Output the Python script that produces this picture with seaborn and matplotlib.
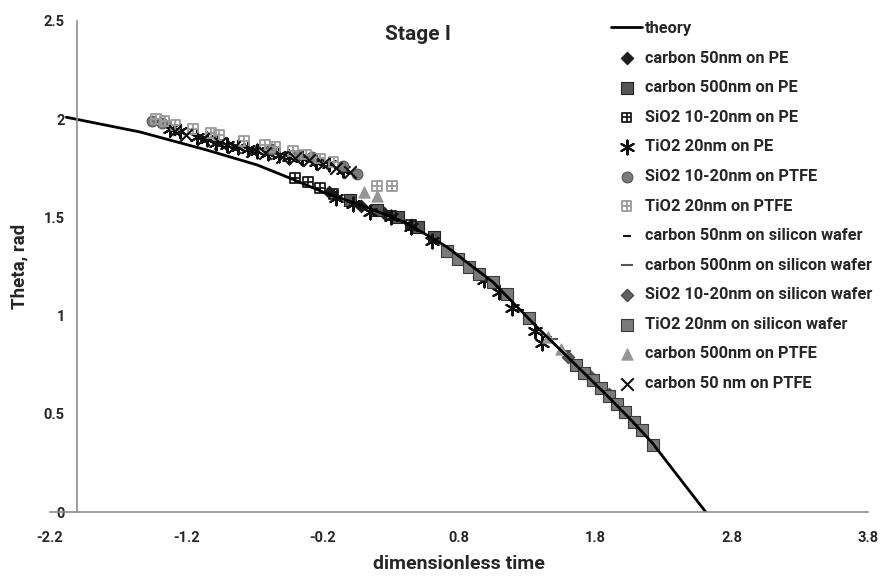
import numpy as np
import pandas as pd
import matplotlib
matplotlib.use("Agg")
import matplotlib.pyplot as plt
from matplotlib.path import Path
import seaborn as sns

# theory curve
theory_x = [-2.08, -1.54, -1.05, -0.68, -0.44, -0.2, 0.13, 0.42, 0.71, 1.05, 1.36, 1.64, 1.89, 2.06, 2.22, 2.42, 2.61]
theory_y = [2.01, 1.935, 1.843, 1.767, 1.70, 1.63, 1.55, 1.47, 1.35, 1.17, 0.95, 0.76, 0.59, 0.47, 0.35, 0.17, 0.0]

c50_pe_x = [-0.15, 0.08, 0.25, 0.45]
c50_pe_y = [1.63, 1.56, 1.52, 1.46]

c500_pe_x = [0.0, 0.2, 0.35, 0.5, 0.62]
c500_pe_y = [1.59, 1.54, 1.50, 1.45, 1.40]

sio2_pe_x = [-0.4, -0.31, -0.22, -0.12, 0.3, 0.45]
sio2_pe_y = [1.70, 1.68, 1.65, 1.62, 1.51, 1.46]

tio2_pe_x = [-1.32, -1.25, -1.12, -1.05, -0.98, -0.9, -0.82, -0.75, -0.68, -0.6, -0.52, -0.45, -0.35, -0.25, -0.15, -0.05,
             -0.1, 0.02, 0.15, 0.3, 0.45, 0.6, 0.98, 1.09, 1.19, 1.36, 1.41]
tio2_pe_y = [1.95, 1.94, 1.91, 1.90, 1.88, 1.87, 1.86, 1.85, 1.84, 1.83, 1.82, 1.81, 1.80, 1.78, 1.77, 1.74,
             1.60, 1.57, 1.53, 1.50, 1.45, 1.38, 1.18, 1.12, 1.04, 0.92, 0.86]

sio2_ptfe_x = [-1.45, -1.38, -0.58, -0.38, -0.28, -0.05, 0.05]
sio2_ptfe_y = [1.99, 1.98, 1.85, 1.82, 1.81, 1.76, 1.72]

tio2_ptfe_x = [-1.42, -1.36, -1.28, -1.15, -1.02, -0.96, -0.78, -0.62, -0.55, -0.42, -0.32, -0.22, -0.12, 0.2, 0.31]
tio2_ptfe_y = [2.00, 1.99, 1.97, 1.95, 1.93, 1.92, 1.89, 1.87, 1.86, 1.84, 1.82, 1.80, 1.78, 1.66, 1.66]

c50_si_x = [1.25, 1.45]
c50_si_y = [1.03, 0.89]

c500_si_x = [1.48, 1.58]
c500_si_y = [0.88, 0.82]

sio2_si_x = [1.6, 1.75, 1.9]
sio2_si_y = [0.79, 0.70, 0.60]

tio2_si_x = [0.71, 0.79, 0.87, 0.95, 1.05, 1.15, 1.31, 1.66, 1.72, 1.78, 1.84, 1.9, 1.96, 2.02, 2.08, 2.14, 2.22]
tio2_si_y = [1.33, 1.29, 1.25, 1.21, 1.17, 1.11, 0.99, 0.75, 0.71, 0.67, 0.63, 0.59, 0.55, 0.51, 0.46, 0.42, 0.34]

c500_ptfe_x = [0.1, 0.2, 1.45, 1.55]
c500_ptfe_y = [1.63, 1.61, 0.89, 0.83]

c50_ptfe_x = [-1.28, -1.2, -1.08, -0.95, -0.85, -0.72, -0.62, -0.5, -0.4, -0.3, -0.2, -0.1, 0.0]
c50_ptfe_y = [1.94, 1.92, 1.90, 1.88, 1.86, 1.84, 1.83, 1.81, 1.80, 1.79, 1.77, 1.75, 1.73]

xticks = [-2.2, -1.2, -0.2, 0.8, 1.8, 2.8, 3.8]
yticks = [0, 0.5, 1, 1.5, 2, 2.5]

# square with a cross inside (Excel style marker)
boxplus = Path(
    [(-1, -1), (1, -1), (1, 1), (-1, 1), (-1, -1), (0, -1), (0, 1), (-1, 0), (1, 0)],
    [Path.MOVETO, Path.LINETO, Path.LINETO, Path.LINETO, Path.CLOSEPOLY,
     Path.MOVETO, Path.LINETO, Path.MOVETO, Path.LINETO],
)

sns.set_theme(style="white")
plt.rcParams["font.family"] = ["Roboto", "DejaVu Sans"]

fig = plt.figure(figsize=(8.82, 5.77), dpi=100)
ax = fig.add_axes([50 / 882, 1 - 512 / 577, 818 / 882, 491 / 577])

sns.lineplot(x=theory_x, y=theory_y, color="black", linewidth=2, ax=ax, label="theory", sort=False)

# label, x, y, marker, face colour, edge colour, size
series = [
    ("carbon 50nm on PE", c50_pe_x, c50_pe_y, "D", "#1e1e1e", "#1e1e1e", 40),
    ("carbon 500nm on PE", c500_pe_x, c500_pe_y, "s", "#555555", "#222222", 75),
    ("SiO2 10-20nm on PE", sio2_pe_x, sio2_pe_y, boxplus, "none", "#1a1a1a", 50),
    ("TiO2 20nm on PE", tio2_pe_x, tio2_pe_y, (6, 2, 0), "#111111", "#111111", 100),
    ("SiO2 10-20nm on PTFE", sio2_ptfe_x, sio2_ptfe_y, "o", "#7a7a7a", "#555555", 60),
    ("TiO2 20nm on PTFE", tio2_ptfe_x, tio2_ptfe_y, boxplus, "none", "#9a9a9a", 50),
    ("carbon 50nm on silicon wafer", c50_si_x, c50_si_y, "_", "#111111", "#111111", 30),
    ("carbon 500nm on silicon wafer", c500_si_x, c500_si_y, "_", "#555555", "#555555", 70),
    ("SiO2 10-20nm on silicon wafer", sio2_si_x, sio2_si_y, "D", "#606060", "#404040", 40),
    ("TiO2 20nm on silicon wafer", tio2_si_x, tio2_si_y, "s", "#7a7a7a", "#3a3a3a", 80),
    ("carbon 500nm on PTFE", c500_ptfe_x, c500_ptfe_y, "^", "#959595", "#959595", 65),
    ("carbon 50 nm on PTFE", c50_ptfe_x, c50_ptfe_y, "x", "#111111", "#111111", 80),
]

for label, xs, ys, mk, fc, ec, sz in series:
    df = pd.DataFrame({"x": xs, "y": ys})
    if isinstance(mk, Path):
        sns.scatterplot(data=df, x="x", y="y", marker=mk, facecolor="none", edgecolor=ec, s=sz,
                        linewidth=1.3, ax=ax, label=label)
    elif mk in ("x", "_") or isinstance(mk, tuple):
        sns.scatterplot(data=df, x="x", y="y", marker=mk, color=fc, s=sz, linewidth=1.5,
                        ax=ax, label=label)
    else:
        sns.scatterplot(data=df, x="x", y="y", marker=mk, color=fc, edgecolor=ec, s=sz,
                        linewidth=0.8, ax=ax, label=label)

ax.set_xlim(-2.2, 3.8)
ax.set_ylim(0, 2.5)
ax.set_xticks(xticks)
ax.set_xticklabels([f"{t:g}" for t in xticks])
ax.set_yticks(yticks)
ax.set_yticklabels([f"{t:g}" for t in yticks])

for s in ["top", "right"]:
    ax.spines[s].set_visible(False)
ax.spines["left"].set_position(("data", -2.0))
for s in ["left", "bottom"]:
    ax.spines[s].set_color("#8c8c8c")
    ax.spines[s].set_linewidth(1.2)
ax.tick_params(axis="both", direction="out", length=5, width=1.2, color="#8c8c8c",
               labelsize=10.5, pad=4)
ax.tick_params(axis="x", pad=9)
for t in ax.get_xticklabels() + ax.get_yticklabels():
    t.set_fontweight("bold")

ax.set_xlabel("dimensionless time", fontsize=14, fontweight="bold", labelpad=7)
ax.set_ylabel("Theta, rad", fontsize=13.5, fontweight="bold")
ax.yaxis.set_label_coords(-0.026, 0.5)
ax.text(0.45, 0.973, "Stage I", transform=ax.transAxes, ha="center", va="center",
        fontsize=15, fontweight="bold")

ax.legend(loc="upper left", bbox_to_anchor=(611 / 882, 1 - 21 / 577), bbox_transform=fig.transFigure,
          frameon=False, labelspacing=0.89, handlelength=1.9, handletextpad=0.15,
          borderpad=0, borderaxespad=0, prop={"weight": "bold", "size": 11.8})

fig.savefig("out.png", dpi=100)
